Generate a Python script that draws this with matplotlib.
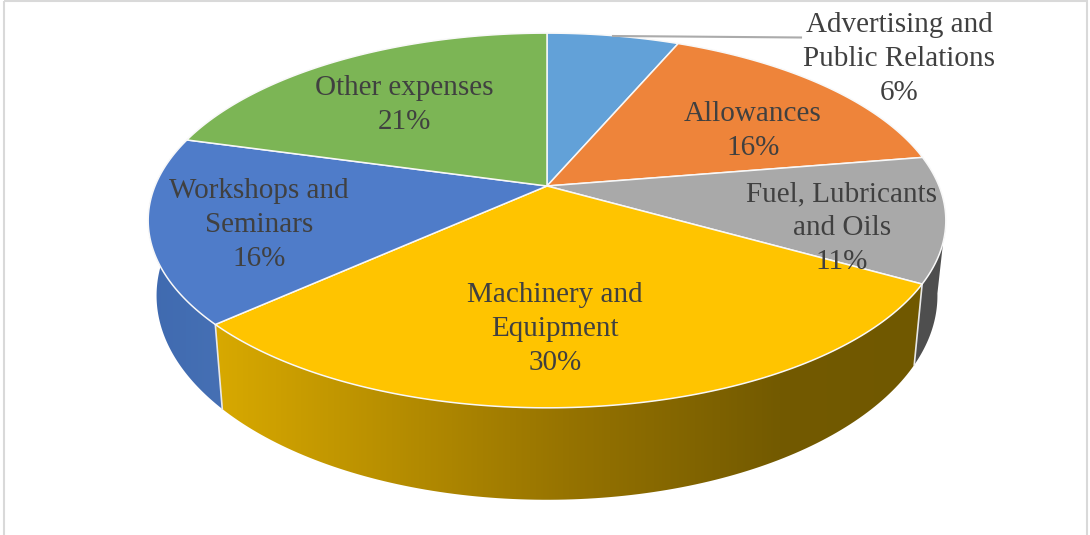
import numpy as np
import matplotlib
matplotlib.use("Agg")
import matplotlib.pyplot as plt
from matplotlib.colors import LinearSegmentedColormap
from matplotlib.patches import PathPatch, Polygon, Rectangle
from matplotlib.path import Path

labels = ["Advertising and\nPublic Relations", "Allowances", "Fuel, Lubricants\nand Oils",
          "Machinery and\nEquipment", "Workshops and\nSeminars", "Other expenses"]
# the picture's labels show these rounded
values = [6.4, 16.0, 10.8, 30.1, 16.0, 20.7]
colors = ["#62A1D8", "#EE843A", "#A9A9A9", "#FFC400", "#4F7CC9", "#7CB555"]

# label centres in pixels
label_x = [899, 753, 842, 555, 259, 404]
label_y = [59, 131, 228, 329, 225, 105]

# perspective of the pie disc
cx, cy = 547, 186
A, B, k = 392, 181, 0.184
shrink, cy2, yscale = 0.979, 258, 1.09

plt.rcParams["font.family"] = ["Liberation Serif", "DejaVu Serif"]


# position on the top rim, theta clockwise from 12 o'clock
def top_rim(theta):
    X = np.sin(theta)
    Y = -np.cos(theta)
    d = 1 - k * Y
    return cx + A * X / d, cy + B * Y / d


def bottom_rim(theta):
    x, y = top_rim(theta)
    return cx + (x - cx) * shrink, cy2 + (y - cy) * yscale


fig = plt.figure(figsize=(10.9, 5.35), dpi=100)
ax = fig.add_axes([0, 0, 1, 1])
ax.set_xlim(0, 1090)
ax.set_ylim(535, 0)
ax.axis("off")

# chart area border
ax.add_patch(Rectangle((4, 1), 1083, 540, fill=False, ec="#D9D9D9", lw=1.5))

edges = np.cumsum([0] + values) / sum(values) * 2 * np.pi


def side_polygon(t0, t1):
    t = np.linspace(t0, t1, 120)
    tx, ty = top_rim(t)
    bx, by = bottom_rim(t)
    return np.r_[np.c_[tx, ty], np.c_[bx, by][::-1]]


def gradient_side(poly, stops):
    cmap = LinearSegmentedColormap.from_list("side", stops)
    grad = np.linspace(0, 1, 512).reshape(1, -1)
    xs, ys = poly[:, 0], poly[:, 1]
    im = ax.imshow(grad, extent=(xs.min(), xs.max(), ys.max(), ys.min()), cmap=cmap, aspect="auto", zorder=2)
    patch = Polygon(poly, closed=True, fc="none", ec="none", transform=ax.transData)
    ax.add_patch(patch)
    im.set_clip_path(patch)


# visible side walls
gradient_side(side_polygon(edges[3], edges[4]),
              [(0, "#D8A900"), (0.5, "#967300"), (0.8, "#735A00"), (1, "#705800")])
gradient_side(side_polygon(edges[4], np.radians(284)),
              [(0, "#3F6AB0"), (1, "#4670B4")])
ax.add_patch(Polygon(side_polygon(np.radians(100), edges[3]), closed=True, fc="#4E4E4E", ec="none", zorder=2))

# seams between side walls
for e in [edges[3], edges[4]]:
    tx, ty = top_rim(e)
    bx, by = bottom_rim(e)
    ax.plot([tx, bx], [ty, by], color="#E8E8E8", lw=1.2, zorder=3)

# top face
for i in range(len(values)):
    t = np.linspace(edges[i], edges[i + 1], 120)
    x, y = top_rim(t)
    pts = np.r_[[[cx, cy]], np.c_[x, y], [[cx, cy]]]
    codes = [Path.MOVETO] + [Path.LINETO] * (len(pts) - 2) + [Path.CLOSEPOLY]
    ax.add_patch(PathPatch(Path(pts, codes), fc=colors[i], ec="#F8F8F8", lw=1.1, zorder=4))

# leader line for the first slice
ax.plot([613, 801], [36, 37.5], color="#ABABAB", lw=1.5, zorder=5)

for i in range(len(values)):
    ax.text(label_x[i], label_y[i], f"{labels[i]}\n{values[i]:.0f}%", ha="center", va="center",
            fontsize=21, color="#404040", linespacing=1.38, zorder=6)

fig.savefig("out.png", dpi=100)
